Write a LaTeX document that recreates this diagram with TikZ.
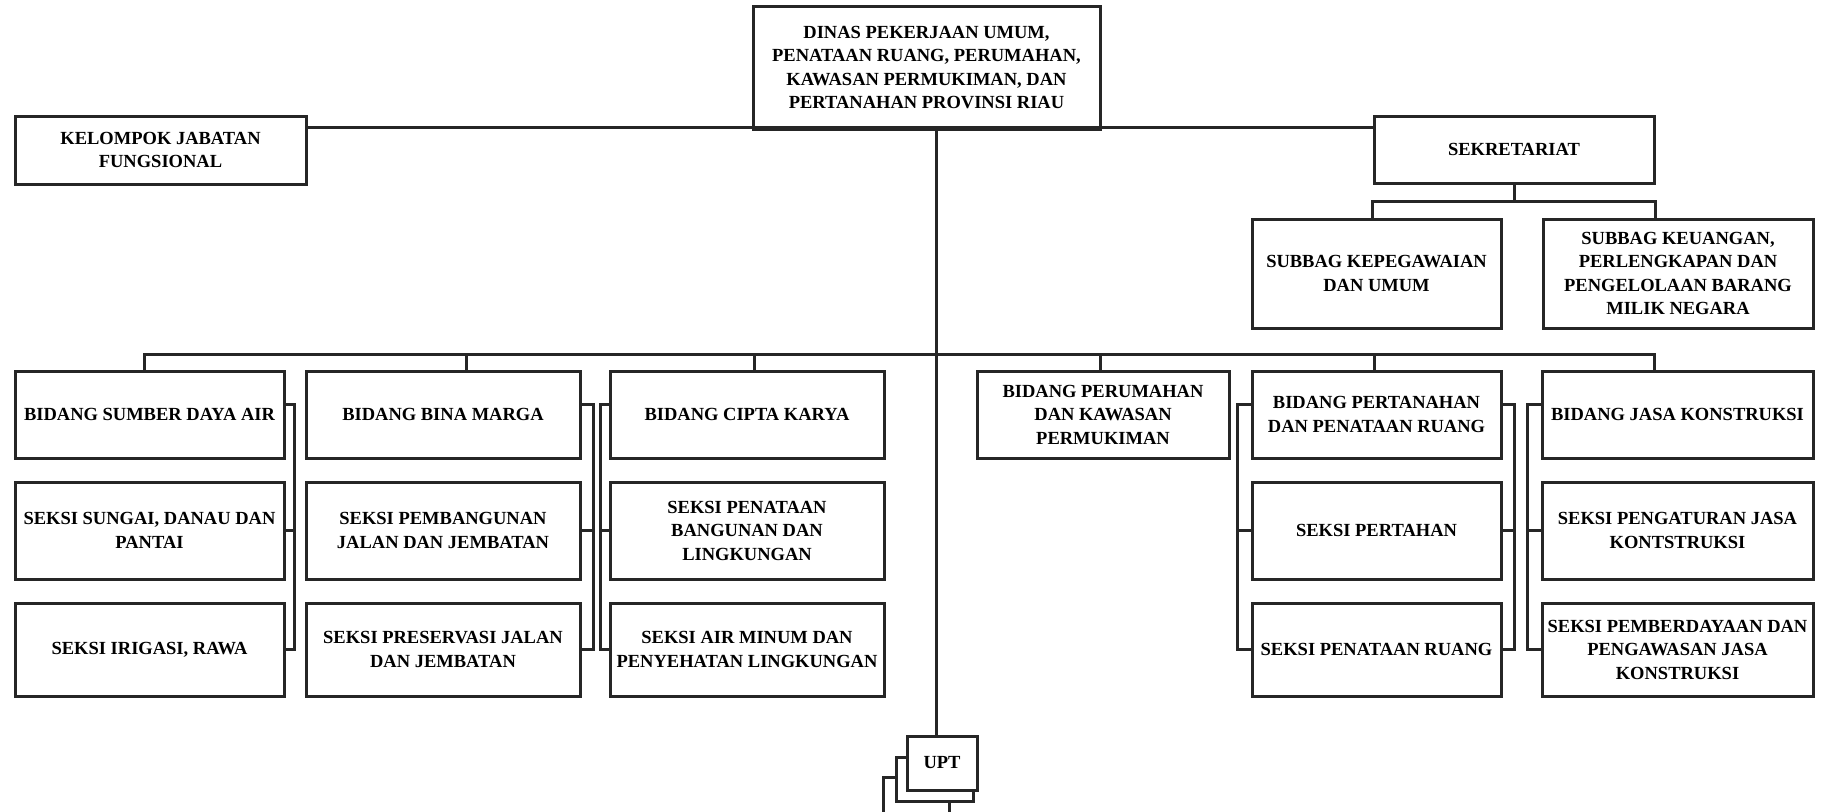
\documentclass[tikz,border=0pt]{standalone}
\usepackage{fontspec}
\setmainfont{Liberation Serif}
\newcommand\bx[6]{%
  \pgfmathsetmacro\bxw{#4-#2}%
  \pgfmathsetmacro\bxh{#5-#3}%
  \pgfmathsetmacro\bxcx{(#2+#4)/2}%
  \pgfmathsetmacro\bxcy{(#3+#5)/2}%
  \node[box,minimum width=\bxw pt,minimum height=\bxh pt] (#1) at (\bxcx,\bxcy) {#6};}
\newcommand\brk[4]{%
  \draw[conn] ([yshift=-35pt]#1a.north #2) -- ++(#3,0) coordinate (#4) |- (#1c.#2);
  \draw[conn] (#1b.#2) -- (#1b.#2 -| #4);}
\tikzset{
  box/.style={draw=black!85, line width=3pt, fill=white, align=center, inner sep=0pt,
    font=\bfseries\fontsize{18.5}{23.5}\selectfont},
  conn/.style={draw=black!85, line width=3pt}
}
\begin{document}
\begin{tikzpicture}[x=1pt,y=-1pt]
\useasboundingbox (0,0) rectangle (1825,811);
% top level
\bx{top}{753}{6}{1100}{129}{DINAS PEKERJAAN UMUM,\\PENATAAN RUANG, PERUMAHAN,\\KAWASAN PERMUKIMAN, DAN\\PERTANAHAN PROVINSI RIAU}
\bx{kel}{15}{116}{306}{184}{KELOMPOK JABATAN\\FUNGSIONAL}
\bx{sek}{1374}{116}{1654}{183}{SEKRETARIAT}
\bx{sub1}{1252}{219}{1501}{328}{SUBBAG KEPEGAWAIAN\\DAN UMUM}
\bx{sub2}{1543}{219}{1813}{328}{SUBBAG KEUANGAN,\\PERLENGKAPAN DAN\\PENGELOLAAN BARANG\\MILIK NEGARA}
% columns
\bx{c1a}{15}{371}{284}{458}{BIDANG SUMBER DAYA AIR}
\bx{c1b}{15}{482}{284}{579}{SEKSI SUNGAI, DANAU DAN\\PANTAI}
\bx{c1c}{15}{603}{284}{696}{SEKSI IRIGASI, RAWA}
\bx{c2a}{306}{371}{580}{458}{BIDANG BINA MARGA}
\bx{c2b}{306}{482}{580}{579}{SEKSI PEMBANGUNAN\\JALAN DAN JEMBATAN}
\bx{c2c}{306}{603}{580}{696}{SEKSI PRESERVASI JALAN\\DAN JEMBATAN}
\bx{c3a}{610}{371}{884}{458}{BIDANG CIPTA KARYA}
\bx{c3b}{610}{482}{884}{579}{SEKSI PENATAAN\\BANGUNAN DAN\\LINGKUNGAN}
\bx{c3c}{610}{603}{884}{696}{SEKSI AIR MINUM DAN\\PENYEHATAN LINGKUNGAN}
\bx{c4a}{977}{371}{1229}{458}{BIDANG PERUMAHAN\\DAN KAWASAN\\PERMUKIMAN}
\bx{c5a}{1252}{371}{1501}{458}{BIDANG PERTANAHAN\\DAN PENATAAN RUANG}
\bx{c5b}{1252}{482}{1501}{579}{SEKSI PERTAHAN}
\bx{c5c}{1252}{603}{1501}{696}{SEKSI PENATAAN RUANG}
\bx{c6a}{1542}{371}{1813}{458}{BIDANG JASA KONSTRUKSI}
\bx{c6b}{1542}{482}{1813}{579}{SEKSI PENGATURAN JASA\\KONTSTRUKSI}
\bx{c6c}{1542}{603}{1813}{696}{SEKSI PEMBERDAYAAN DAN\\PENGAWASAN JASA\\KONSTRUKSI}
% UPT stack
\bx{upt3}{883}{777}{949}{815}{}
\bx{upt2}{896}{757}{973}{801}{}
\bx{upt}{907}{736}{977}{790}{UPT}
% connectors
\coordinate (vx) at (936,0);
\draw[conn] ([yshift=-13pt]kel.north east) -- ([yshift=-13pt]sek.north west);
\draw[conn] (top.south -| vx) -- (upt.north -| vx);
\coordinate (sb) at (1514,201);
\draw[conn] (sek.south) -- (sb);
\draw[conn] (sub1.north -| sek.west) |- (sb) -| (sub2.north -| sek.east);
% main bus
\coordinate (d1) at (144,354);
\coordinate (d2) at (466,354);
\coordinate (d3) at (754,354);
\coordinate (d4) at (1100,354);
\coordinate (d5) at (1374,354);
\coordinate (d6) at (1654,354);
\draw[conn] (c1a.north -| d1) |- (d6) -- (c6a.north -| d6);
\draw[conn] (d2) -- (c2a.north -| d2);
\draw[conn] (d3) -- (c3a.north -| d3);
\draw[conn] (d4) -- (c4a.north -| d4);
\draw[conn] (d5) -- (c5a.north -| d5);
% brackets
\brk{c1}{east}{9}{k1}
\brk{c2}{east}{12}{k2}
\brk{c3}{west}{-8}{k3}
\brk{c5}{west}{-13}{k5l}
\brk{c5}{east}{12}{k5r}
\brk{c6}{west}{-13}{k6}
\end{tikzpicture}
\end{document}
